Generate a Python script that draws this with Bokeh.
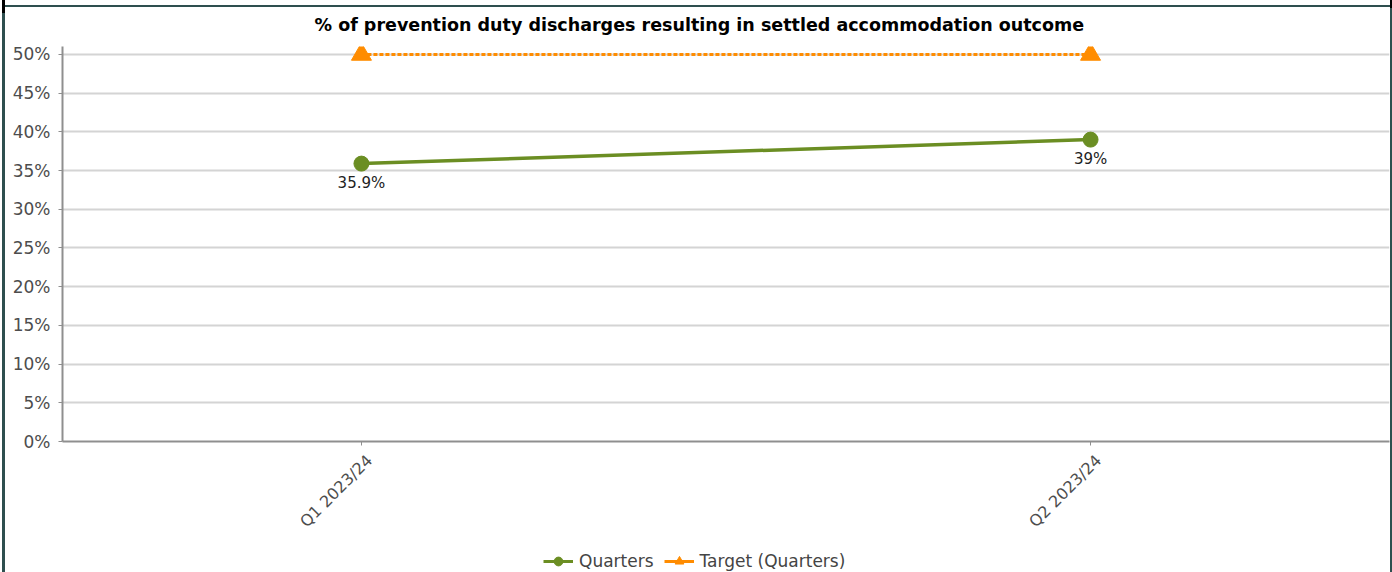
import math
from bokeh.plotting import figure
from bokeh.layouts import column
from bokeh.models import (ColumnDataSource, Range1d, FixedTicker, PrintfTickFormatter,
                          Legend, LegendItem, InlineStyleSheet)
from bokeh.embed import file_html
from bokeh.resources import INLINE
from bokeh.core.properties import value

# ---- data ----
categories = ["Q1 2023/24", "Q2 2023/24"]
quarters = [35.9, 39.0]
quarter_labels = ["35.9%", "39%"]
target = [50, 50]
y_ticks = [0, 5, 10, 15, 20, 25, 30, 35, 40, 45, 50]
title_text = "% of prevention duty discharges resulting in settled accommodation outcome"
legend_labels = ["Quarters", "Target (Quarters)"]

xs = list(range(len(categories)))
src = ColumnDataSource(dict(x=xs, q=quarters, lab=quarter_labels, t=target))

FONT = "DejaVu Sans"
GREEN = "#6b8e23"
ORANGE = "#ff8c00"
LEG_H = 22

p = figure(width=1392, height=572 - LEG_H, output_backend="svg", toolbar_location=None,
           x_range=Range1d(-0.410, 1.410), y_range=Range1d(0, 51.03),
           min_border_left=62, min_border_right=3, min_border_top=45,
           min_border_bottom=572 - LEG_H - 441, background_fill_color="white",
           border_fill_color="white", title=title_text)
p.outline_line_color = None

p.title.align = "left"
p.title.offset = 252
p.title.standoff = 24
p.title.text_font = FONT
p.title.text_font_size = "17.5px"
p.title.text_font_style = "bold"
p.title.text_color = "#000000"

# axes
p.yaxis.ticker = FixedTicker(ticks=y_ticks)
p.yaxis.formatter = PrintfTickFormatter(format="%d%%")
p.xaxis.ticker = FixedTicker(ticks=xs)
p.xaxis.major_label_overrides = {i: "\n" + c for i, c in enumerate(categories)}
p.xaxis.major_label_orientation = math.pi / 4
for ax in (p.xaxis, p.yaxis):
    ax.axis_line_color = "#8f8f8f"
    ax.axis_line_width = 2
    ax.major_tick_line_color = "#8f8f8f"
    ax.major_tick_in = 0
    ax.major_tick_out = 4
    ax.minor_tick_line_color = None
    ax.major_label_text_font = FONT
    ax.major_label_text_color = "#4d4d4d"
p.yaxis.major_label_text_font_size = "17px"
p.xaxis.major_label_text_font_size = "16px"
p.yaxis.major_label_standoff = 8
p.xaxis.major_label_standoff = 4

p.xgrid.grid_line_color = None
p.ygrid.grid_line_color = "#d4d4d4"
p.ygrid.grid_line_width = 2

# series
p.line("x", "t", source=src, line_color=ORANGE, line_width=3, line_dash="4 2")
p.scatter("x", "t", source=src, marker="triangle", size=20,
          fill_color=ORANGE, line_color=ORANGE)
p.line("x", "q", source=src, line_color=GREEN, line_width=3.5)
p.scatter("x", "q", source=src, marker="circle", size=15,
          fill_color=GREEN, line_color=GREEN)
p.text("x", "q", text="lab", source=src, y_offset=10, text_align="center",
       text_baseline="top", text_font=value(FONT), text_font_size="15px",
       text_color="#222222")

# legend strip (separate small figure; its data lies outside its view)
pl = figure(width=1392, height=LEG_H, output_backend="svg", toolbar_location=None,
            x_range=Range1d(100, 101), y_range=Range1d(100, 101),
            min_border_left=0, min_border_right=0, min_border_top=0,
            min_border_bottom=0, background_fill_color="white",
            border_fill_color="white")
pl.axis.visible = False
pl.grid.visible = False
pl.outline_line_color = None
lq1 = pl.line("x", "q", source=src, line_color=GREEN, line_width=3)
lq2 = pl.scatter("x", "q", source=src, marker="circle", fill_color=GREEN, line_color=GREEN)
lt1 = pl.line("x", "t", source=src, line_color=ORANGE, line_width=3)
lt2 = pl.scatter("x", "t", source=src, marker="triangle", fill_color=ORANGE, line_color=ORANGE)
legend = Legend(items=[LegendItem(label=legend_labels[0], renderers=[lq1, lq2]),
                       LegendItem(label=legend_labels[1], renderers=[lt1, lt2])],
                orientation="horizontal", location=(481, 0),
                border_line_color=None, background_fill_alpha=0,
                padding=0, margin=0, spacing=10, label_standoff=6,
                glyph_width=30, glyph_height=LEG_H,
                label_text_font=FONT, label_text_font_size="17px",
                label_text_color="#444444")
pl.add_layout(legend)

frame_css = InlineStyleSheet(css="""
:host::after {
  content: ""; position: absolute; left: 2px; top: 5px; right: 0px; bottom: 0px;
  border-top: 2px solid #2e4f4f; border-left: 3px solid #2e4f4f;
  border-right: 2px solid #2e4f4f; pointer-events: none; z-index: 10;
}
:host::before {
  content: ""; position: absolute; left: 2px; top: 0px; width: 3px; height: 13px;
  background: #000000; box-shadow: 1388px -5px 0 0 #000000;
  pointer-events: none; z-index: 11;
}
""")
layout = column(p, pl, spacing=0, stylesheets=[frame_css])
open("out.html", "w").write(file_html(layout, INLINE))
